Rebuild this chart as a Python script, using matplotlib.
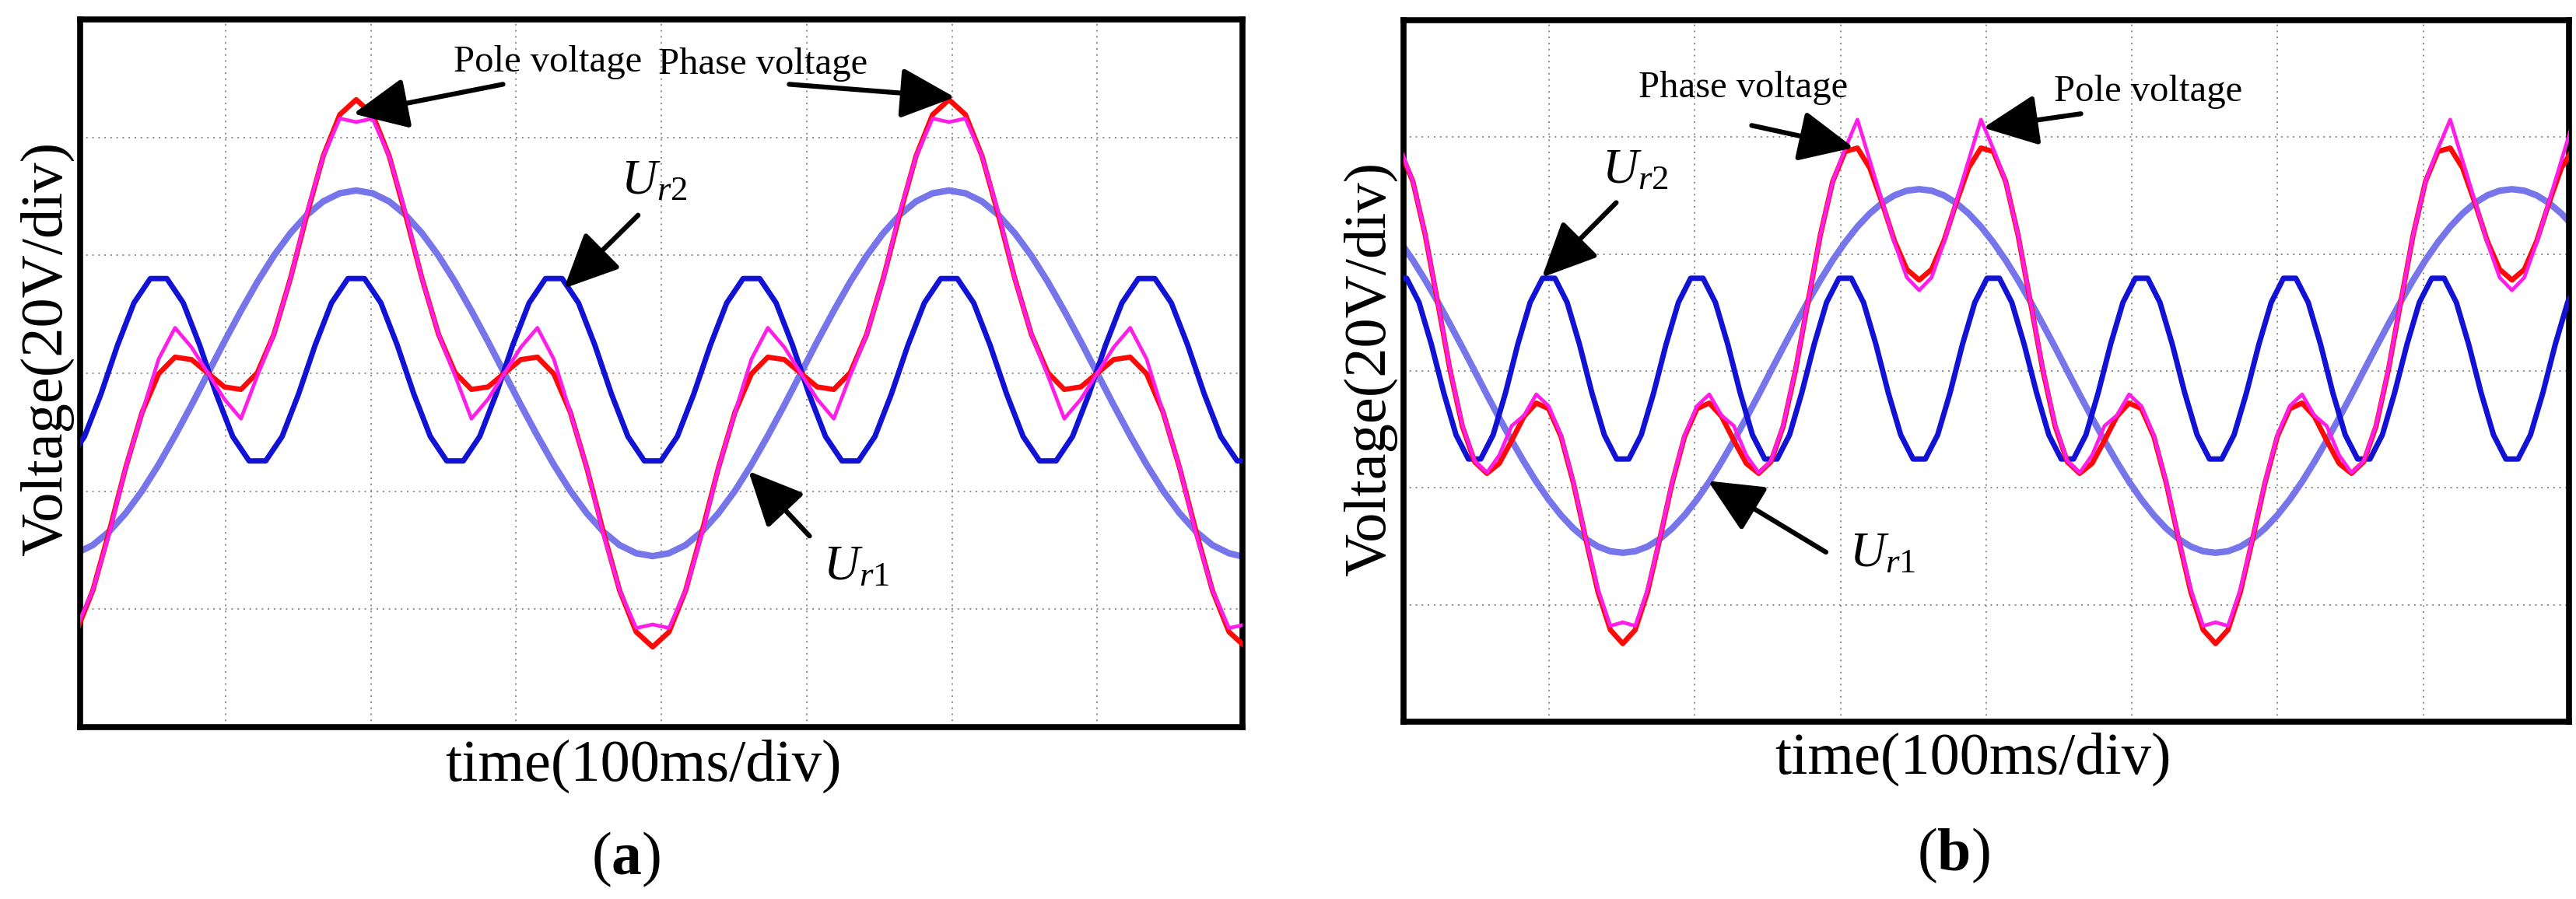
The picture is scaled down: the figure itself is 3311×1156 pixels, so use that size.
import matplotlib
matplotlib.use("Agg")
import matplotlib.pyplot as plt

# шрифты - похоже на Times
plt.rcParams["font.family"] = ["Liberation Serif", "DejaVu Serif"]
plt.rcParams["mathtext.fontset"] = "custom"
plt.rcParams["mathtext.rm"] = "Liberation Serif"
plt.rcParams["mathtext.it"] = "Liberation Serif:italic"
plt.rcParams["mathtext.bf"] = "Liberation Serif:bold"

# ---------------- панель (a): время в делениях (0..8), напряжение в делениях (-3..3)
t_a = [-0.027, 0.087, 0.200, 0.313, 0.427, 0.540, 0.653, 0.767, 0.880, 0.993,
       1.107, 1.220, 1.333, 1.447, 1.560, 1.673, 1.787, 1.900, 2.013, 2.127,
       2.240, 2.353, 2.467, 2.580, 2.693, 2.807, 2.920, 3.033, 3.147, 3.260,
       3.373, 3.487, 3.600, 3.713, 3.827, 3.940, 4.053, 4.167, 4.280, 4.393,
       4.507, 4.620, 4.733, 4.847, 4.960, 5.073, 5.187, 5.300, 5.413, 5.527,
       5.640, 5.753, 5.867, 5.980, 6.093, 6.207, 6.320, 6.433, 6.547, 6.660,
       6.773, 6.887, 7.000, 7.113, 7.227, 7.340, 7.453, 7.567, 7.680, 7.793,
       7.907, 8.020]
ur1_a = [-1.526, -1.457, -1.342, -1.187, -0.996, -0.775, -0.530, -0.269, 0.0, 0.269,
         0.530, 0.775, 0.996, 1.187, 1.342, 1.457, 1.526,
         1.55, 1.526, 1.457, 1.342, 1.187, 0.996, 0.775, 0.530, 0.269, 0.0,
         -0.269, -0.530, -0.775, -0.996, -1.187, -1.342, -1.457, -1.526, -1.55,
         -1.526, -1.457, -1.342, -1.187, -0.996, -0.775, -0.530, -0.269, 0.0,
         0.269, 0.530, 0.775, 0.996, 1.187, 1.342, 1.457, 1.526, 1.55,
         1.526, 1.457, 1.342, 1.187, 0.996, 0.775, 0.530, 0.269, 0.0,
         -0.269, -0.530, -0.775, -0.996, -1.187, -1.342, -1.457, -1.526, -1.56]
phase_a = [-2.193, -1.842, -1.342, -0.802, -0.329, -0.005, 0.137, 0.116, 0.0, -0.116,
           -0.137, 0.005, 0.329, 0.802, 1.342, 1.842, 2.193,
           2.32, 2.193, 1.842, 1.342, 0.802, 0.329, 0.005, -0.137, -0.116, 0.0,
           0.116, 0.137, -0.005, -0.329, -0.802, -1.342, -1.842, -2.193, -2.32,
           -2.193, -1.842, -1.342, -0.802, -0.329, -0.005, 0.137, 0.116, 0.0,
           -0.116, -0.137, 0.005, 0.329, 0.802, 1.342, 1.842, 2.193, 2.32,
           2.193, 1.842, 1.342, 0.802, 0.329, 0.005, -0.137, -0.116, 0.0,
           0.116, 0.137, -0.005, -0.329, -0.802, -1.342, -1.842, -2.193, -2.32]
pole_a = [-2.16, -1.84, -1.36, -0.80, -0.33, 0.12, 0.385, 0.22, 0.0, -0.22,
          -0.385, -0.02, 0.33, 0.80, 1.36, 1.84, 2.16,
          2.13, 2.16, 1.84, 1.36, 0.80, 0.33, -0.02, -0.385, -0.22, 0.0,
          0.22, 0.385, 0.12, -0.33, -0.80, -1.36, -1.84, -2.16, -2.13,
          -2.16, -1.84, -1.36, -0.80, -0.33, 0.12, 0.385, 0.22, 0.0,
          -0.22, -0.385, -0.02, 0.33, 0.80, 1.36, 1.84, 2.16, 2.13,
          2.16, 1.84, 1.36, 0.80, 0.33, -0.02, -0.385, -0.22, 0.0,
          0.22, 0.385, 0.12, -0.33, -0.80, -1.36, -1.84, -2.16, -2.13]
# Ur2 снят в точках между отсчетами - вершины выходят плоскими, как на осциллограмме
t2_a = [-0.083, 0.030, 0.143, 0.257, 0.370, 0.483, 0.597, 0.710, 0.823, 0.937,
        1.050, 1.163, 1.277, 1.390, 1.503, 1.617, 1.730, 1.843, 1.957, 2.070,
        2.183, 2.297, 2.410, 2.523, 2.637, 2.750, 2.863, 2.977, 3.090, 3.203,
        3.317, 3.430, 3.543, 3.657, 3.770, 3.883, 3.997, 4.110, 4.223, 4.337,
        4.450, 4.563, 4.677, 4.790, 4.903, 5.017, 5.130, 5.243, 5.357, 5.470,
        5.583, 5.697, 5.810, 5.923, 6.037, 6.150, 6.263, 6.377, 6.490, 6.603,
        6.717, 6.830, 6.943, 7.057, 7.170, 7.283, 7.397, 7.510, 7.623, 7.737,
        7.850, 7.963, 8.077]
ur2_a = [-0.743, -0.536, -0.177, 0.237, 0.596, 0.803, 0.803, 0.596, 0.237, -0.177, -0.536, -0.743,
         -0.743, -0.536, -0.177, 0.237, 0.596, 0.803, 0.803, 0.596, 0.237, -0.177, -0.536, -0.743,
         -0.743, -0.536, -0.177, 0.237, 0.596, 0.803, 0.803, 0.596, 0.237, -0.177, -0.536, -0.743,
         -0.743, -0.536, -0.177, 0.237, 0.596, 0.803, 0.803, 0.596, 0.237, -0.177, -0.536, -0.743,
         -0.743, -0.536, -0.177, 0.237, 0.596, 0.803, 0.803, 0.596, 0.237, -0.177, -0.536, -0.743,
         -0.743, -0.536, -0.177, 0.237, 0.596, 0.803, 0.803, 0.596, 0.237, -0.177, -0.536, -0.743,
         -0.743]

# ---------------- панель (b)
t_b = [-0.021, 0.064, 0.148, 0.233, 0.318, 0.403, 0.488, 0.572, 0.657, 0.742,
       0.827, 0.911, 0.996, 1.081, 1.166, 1.251, 1.335, 1.420, 1.505,
       1.590, 1.675, 1.759, 1.844, 1.929, 2.014, 2.099, 2.183, 2.268, 2.353,
       2.438, 2.522, 2.607, 2.692, 2.777, 2.862, 2.946, 3.031, 3.116, 3.201,
       3.286, 3.370, 3.455,
       3.540, 3.625, 3.710, 3.794, 3.879, 3.964, 4.049, 4.134, 4.218, 4.303,
       4.388, 4.473, 4.557, 4.642, 4.727, 4.812, 4.897, 4.981, 5.066, 5.151,
       5.236, 5.321, 5.405, 5.490, 5.575,
       5.660, 5.745, 5.829, 5.914, 5.999, 6.084, 6.169, 6.253, 6.338, 6.423,
       6.508, 6.592, 6.677, 6.762, 6.847, 6.932, 7.016, 7.101, 7.186, 7.271,
       7.356, 7.440, 7.525, 7.610,
       7.695, 7.780, 7.864, 7.949, 8.034]
ur1_b = [1.100, 0.947, 0.778, 0.595, 0.402, 0.203, 0.0, -0.203, -0.402, -0.595,
         -0.778, -0.947, -1.100, -1.234, -1.347, -1.437, -1.502, -1.542, -1.555,
         -1.542, -1.502, -1.437, -1.347, -1.234, -1.100, -0.947, -0.778, -0.595,
         -0.402, -0.203, 0.0, 0.203, 0.402, 0.595, 0.778, 0.947, 1.100, 1.234,
         1.347, 1.437, 1.502, 1.542,
         1.555, 1.542, 1.502, 1.437, 1.347, 1.234, 1.100, 0.947, 0.778, 0.595,
         0.402, 0.203, 0.0, -0.203, -0.402, -0.595, -0.778, -0.947, -1.100,
         -1.234, -1.347, -1.437, -1.502, -1.542, -1.555,
         -1.542, -1.502, -1.437, -1.347, -1.234, -1.100, -0.947, -0.778, -0.595,
         -0.402, -0.203, 0.0, 0.203, 0.402, 0.595, 0.778, 0.947, 1.100, 1.234,
         1.347, 1.437, 1.502, 1.542, 1.555,
         1.542, 1.502, 1.437, 1.347, 1.234]
phase_b = [1.877, 1.620, 1.167, 0.595, 0.013, -0.470, -0.777, -0.876, -0.791, -0.595,
           -0.389, -0.274, -0.323, -0.561, -0.958, -1.437, -1.891, -2.215, -2.332,
           -2.215, -1.891, -1.437, -0.958, -0.561, -0.323, -0.274, -0.389, -0.595,
           -0.791, -0.876, -0.777, -0.470, 0.013, 0.595, 1.167, 1.620, 1.877, 1.907,
           1.736, 1.437, 1.113, 0.869,
           0.778, 0.869, 1.113, 1.437, 1.736, 1.907, 1.877, 1.620, 1.167, 0.595,
           0.013, -0.470, -0.777, -0.876, -0.791, -0.595, -0.389, -0.274, -0.323,
           -0.561, -0.958, -1.437, -1.891, -2.215, -2.332,
           -2.215, -1.891, -1.437, -0.958, -0.561, -0.323, -0.274, -0.389, -0.595,
           -0.791, -0.876, -0.777, -0.470, 0.013, 0.595, 1.167, 1.620, 1.877, 1.907,
           1.736, 1.437, 1.113, 0.869, 0.778,
           0.869, 1.113, 1.437, 1.736, 1.907]
pole_b = [1.90, 1.62, 1.17, 0.60, 0.02, -0.46, -0.77, -0.87, -0.72, -0.47,
          -0.38, -0.20, -0.30, -0.55, -0.95, -1.43, -1.87, -2.18, -2.15,
          -2.18, -1.87, -1.43, -0.95, -0.55, -0.30, -0.20, -0.38, -0.47,
          -0.72, -0.87, -0.77, -0.46, 0.02, 0.60, 1.17, 1.62, 1.90, 2.15,
          1.80, 1.45, 1.10, 0.80,
          0.69, 0.80, 1.10, 1.45, 1.80, 2.15, 1.90, 1.62, 1.17, 0.60,
          0.02, -0.46, -0.77, -0.87, -0.72, -0.47, -0.38, -0.20, -0.30,
          -0.55, -0.95, -1.43, -1.87, -2.18, -2.15,
          -2.18, -1.87, -1.43, -0.95, -0.55, -0.30, -0.20, -0.38, -0.47,
          -0.72, -0.87, -0.77, -0.46, 0.02, 0.60, 1.17, 1.62, 1.90, 2.15,
          1.80, 1.45, 1.10, 0.80, 0.69,
          0.80, 1.10, 1.45, 1.80, 2.15]
t2_b = [-0.064, 0.021, 0.106, 0.191, 0.276, 0.360, 0.445, 0.530, 0.615, 0.700,
        0.784, 0.869, 0.954, 1.039, 1.123, 1.208, 1.293, 1.378, 1.463, 1.547,
        1.632, 1.717, 1.802, 1.887, 1.971, 2.056, 2.141, 2.226, 2.311, 2.395,
        2.480, 2.565, 2.650, 2.734, 2.819, 2.904, 2.989, 3.074, 3.158, 3.243,
        3.328, 3.413, 3.498, 3.582, 3.667, 3.752, 3.837, 3.922, 4.006, 4.091,
        4.176, 4.261, 4.346, 4.430, 4.515, 4.600, 4.685, 4.769, 4.854, 4.939,
        5.024, 5.109, 5.193, 5.278, 5.363, 5.448, 5.533, 5.617, 5.702, 5.787,
        5.872, 5.957, 6.041, 6.126, 6.211, 6.296, 6.380, 6.465, 6.550, 6.635,
        6.720, 6.804, 6.889, 6.974, 7.059, 7.144, 7.228, 7.313, 7.398, 7.483,
        7.568, 7.652, 7.737, 7.822, 7.907, 7.992, 8.076]
ur2_b = [0.793, 0.793, 0.586, 0.227, -0.187, -0.546, -0.753, -0.753, -0.546, -0.187, 0.227, 0.586,
         0.793, 0.793, 0.586, 0.227, -0.187, -0.546, -0.753, -0.753, -0.546, -0.187, 0.227, 0.586,
         0.793, 0.793, 0.586, 0.227, -0.187, -0.546, -0.753, -0.753, -0.546, -0.187, 0.227, 0.586,
         0.793, 0.793, 0.586, 0.227, -0.187, -0.546, -0.753, -0.753, -0.546, -0.187, 0.227, 0.586,
         0.793, 0.793, 0.586, 0.227, -0.187, -0.546, -0.753, -0.753, -0.546, -0.187, 0.227, 0.586,
         0.793, 0.793, 0.586, 0.227, -0.187, -0.546, -0.753, -0.753, -0.546, -0.187, 0.227, 0.586,
         0.793, 0.793, 0.586, 0.227, -0.187, -0.546, -0.753, -0.753, -0.546, -0.187, 0.227, 0.586,
         0.793, 0.793, 0.586, 0.227, -0.187, -0.546, -0.753, -0.753, -0.546, -0.187, 0.227, 0.586,
         0.793]


def draw_panel(ax, t, t2, ur1, ur2, phase, pole):
    """рисует одну осциллограмму: несущие Ur1, Ur2 и два напряжения"""
    ax.plot(t2, ur2, color="#1212D4", lw=5.0, zorder=3)
    ax.plot(t, ur1, color="#7676EA", lw=6.0, zorder=2)
    ax.plot(t, phase, color="#FF0808", lw=4.8, zorder=4)
    ax.plot(t, pole, color="#FF1EE8", lw=3.4, zorder=5)

    # сетка 8 x 6 делений, как на осциллографе
    ax.set_xlim(0, 8)
    ax.set_ylim(-3, 3)
    ax.set_xticks(range(1, 8))
    ax.set_yticks(range(-2, 3))
    ax.tick_params(length=0, labelbottom=False, labelleft=False)
    ax.grid(True, color="#8a8a8a", linestyle=(0, (1, 3)), lw=1.4)
    for s in ax.spines.values():
        s.set_linewidth(5.5)


def arrow(ax, tail, tip):
    # черная стрелка с залитым наконечником
    ax.annotate(
        "", xy=tip, xytext=tail, zorder=10,
        arrowprops=dict(arrowstyle="-|>,head_length=0.9,head_width=0.42",
                        mutation_scale=48, lw=4.5, color="black",
                        shrinkA=0, shrinkB=0),
    )


fig = plt.figure(figsize=(33.12, 11.56), dpi=100)
ax_a = fig.add_axes([0.0311, 0.1912, 0.4511, 0.7872])
ax_b = fig.add_axes([0.5447, 0.1972, 0.4522, 0.7803])

draw_panel(ax_a, t_a, t2_a, ur1_a, ur2_a, phase_a, pole_a)
draw_panel(ax_b, t_b, t2_b, ur1_b, ur2_b, phase_b, pole_b)

# подписи внутри панели (a)
ax_a.text(3.22, 2.64, "Pole voltage", fontsize=35, ha="center", va="center", zorder=11)
ax_a.text(4.70, 2.62, "Phase voltage", fontsize=35, ha="center", va="center", zorder=11)
arrow(ax_a, (2.91, 2.45), (1.88, 2.20))
arrow(ax_a, (4.88, 2.45), (6.02, 2.34))
ax_a.text(3.95, 1.62, r"$U_{r2}$", fontsize=46, ha="center", va="center", zorder=11)
arrow(ax_a, (3.84, 1.34), (3.33, 0.72))
ax_a.text(5.34, -1.65, r"$U_{r1}$", fontsize=46, ha="center", va="center", zorder=11)
arrow(ax_a, (5.02, -1.38), (4.60, -0.83))

# подписи внутри панели (b)
ax_b.text(2.33, 2.42, "Phase voltage", fontsize=35, ha="center", va="center", zorder=11)
arrow(ax_b, (2.39, 2.10), (3.09, 1.91))
ax_b.text(5.11, 2.39, "Pole voltage", fontsize=35, ha="center", va="center", zorder=11)
arrow(ax_b, (4.65, 2.20), (3.98, 2.08))
ax_b.text(1.59, 1.71, r"$U_{r2}$", fontsize=46, ha="center", va="center", zorder=11)
arrow(ax_b, (1.46, 1.44), (0.95, 0.80))
ax_b.text(3.29, -1.57, r"$U_{r1}$", fontsize=46, ha="center", va="center", zorder=11)
arrow(ax_b, (2.90, -1.55), (2.09, -0.94))

# подписи осей и панелей
fig.text(0.0184, 0.6125, "Voltage(20V/div)", fontsize=55, rotation=90, ha="center", va="center")
fig.text(0.532, 0.590, "Voltage(20V/div)", fontsize=55, rotation=90, ha="center", va="center")
fig.text(0.2497, 0.148, "time(100ms/div)", fontsize=55, ha="center", va="center")
fig.text(0.7657, 0.1557, "time(100ms/div)", fontsize=55, ha="center", va="center")
fig.text(0.243, 0.044, r"($\mathbf{a}$)", fontsize=56, ha="center", va="center")
fig.text(0.758, 0.048, r"($\mathbf{b}$)", fontsize=56, ha="center", va="center")

fig.savefig("out.png", dpi=100)
